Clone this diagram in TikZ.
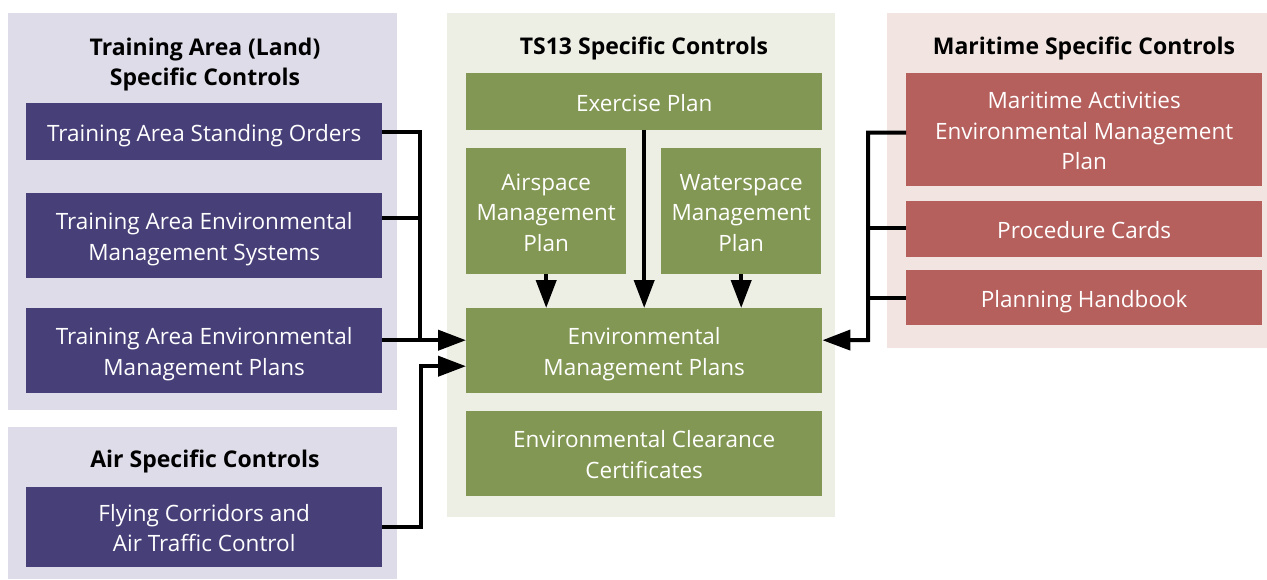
\documentclass[tikz,border=0pt]{standalone}
\usepackage{fontspec}
\setmainfont{Open Sans}
\usetikzlibrary{arrows.meta,calc}
\definecolor{pur}{HTML}{473F78}
\definecolor{grn}{HTML}{829753}
\definecolor{red1}{HTML}{B5605D}
\definecolor{pbg}{HTML}{DFDCEA}
\definecolor{gbg}{HTML}{EDEFE5}
\definecolor{rbg}{HTML}{F2E5E1}
\tikzset{
  panel/.style={rectangle,draw=none,inner sep=0,anchor=north west},
  box/.style={rectangle,draw=none,inner sep=0,anchor=north west,text=white,align=center,font=\fontsize{22.5}{30.5}\selectfont,text depth=0pt},
  one/.style={text height=19pt},
  two/.style={text height=49.5pt},
  three/.style={text height=80pt},
  ttl/.style={font=\fontsize{23}{30}\selectfont\bfseries,align=center,inner sep=0},
  conn/.style={line width=4pt,black},
  arr/.style={conn,-{Triangle[length=28pt,width=20pt]}},
}
\begin{document}
\begin{tikzpicture}[x=1pt,y=-1pt]
\useasboundingbox (0,0) rectangle (1267,579);
% panels
\node[panel,fill=pbg,minimum width=389pt,minimum height=397pt] (pl) at (8,13) {};
\node[panel,fill=pbg,minimum width=389pt,minimum height=152pt] (pa) at (8,427) {};
\node[panel,fill=gbg,minimum width=388pt,minimum height=504pt] (pm) at (447,13) {};
\node[panel,fill=rbg,minimum width=380pt,minimum height=335pt] (pr) at (887,13) {};
% titles
\node[ttl] (tl) at (205,64.5) {Training Area (Land)\\Specific Controls};
\node[ttl] (ta) at (205,461) {Air Specific Controls};
\node[ttl] (tm) at (644,48) {TS13 Specific Controls};
\node[ttl] (tr) at (1084,48) {Maritime Specific Controls};
% left boxes
\node[box,one,fill=pur,minimum width=356pt,minimum height=57pt] (so) at (26,103) {Training Area Standing Orders};
\node[box,two,fill=pur,minimum width=356pt,minimum height=85pt] (ems) at (26,193) {Training Area Environmental\\Management Systems};
\node[box,two,fill=pur,minimum width=356pt,minimum height=85pt] (temp) at (26,308) {Training Area Environmental\\Management Plans};
\node[box,two,fill=pur,minimum width=356pt,minimum height=80pt] (fc) at (26,487) {Flying Corridors and\\Air Traffic Control};
% middle boxes
\node[box,one,fill=grn,minimum width=356pt,minimum height=57pt] (ep) at (466,73) {Exercise Plan};
\node[box,three,fill=grn,minimum width=160pt,minimum height=126pt] (as) at (466,148) {Airspace\\Management\\Plan};
\node[box,three,fill=grn,minimum width=160pt,minimum height=126pt] (ws) at (661,148) {Waterspace\\Management\\Plan};
\node[box,two,fill=grn,minimum width=356pt,minimum height=85pt] (emp) at (466,308) {Environmental\\Management Plans};
\node[box,two,fill=grn,minimum width=356pt,minimum height=85pt] (ecc) at (466,411) {Environmental Clearance\\Certificates};
% right boxes
\node[box,three,fill=red1,minimum width=356pt,minimum height=113pt] (ma) at (906,73) {Maritime Activities\\Environmental Management\\Plan};
\node[box,one,fill=red1,minimum width=356pt,minimum height=56pt] (pc) at (906,201) {Procedure Cards};
\node[box,one,fill=red1,minimum width=356pt,minimum height=55pt] (ph) at (906,270) {Planning Handbook};
% left connectors
\coordinate (jl) at (420,340);
\draw[conn] (so.east) -| (jl);
\draw[conn] ([yshift=17.5pt]ems.east) -- ([yshift=17.5pt]ems.east -| jl);
\draw[arr] ([yshift=10.5pt]temp.east) -- ([yshift=10.5pt]emp.west);
\draw[arr] (fc.east) -- ++(39,0) |- ([yshift=-15.5pt]emp.west);
% right connectors
\coordinate (jr) at (868,340);
\draw[arr] ([yshift=-3pt]ma.west) -| (jr) -- ([yshift=10.5pt]emp.east);
\draw[conn] ([yshift=1.5pt]pc.west) -- ([yshift=1.5pt]pc.west -| jr);
\draw[conn] (ph.west) -- (ph.west -| jr);
% middle connectors
\draw[arr] (ep.south) -- (ep.south |- emp.north);
\draw[arr] (as.south) -- (as.south |- emp.north);
\draw[arr] (ws.south) -- (ws.south |- emp.north);
\end{tikzpicture}
\end{document}
